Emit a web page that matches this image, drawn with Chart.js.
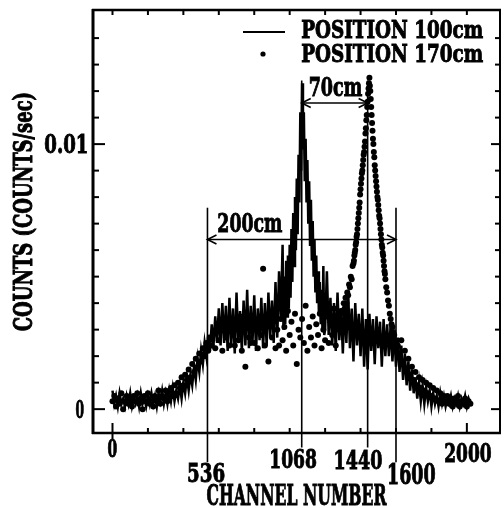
<!DOCTYPE html>
<html>
<head>
<meta charset="utf-8">
<script src="https://cdn.jsdelivr.net/npm/chart.js@4/dist/chart.umd.min.js"></script>
<style>
html,body{margin:0;padding:0;background:#fff;}
canvas{display:block;}
</style>
</head>
<body>
<canvas id="c" width="504" height="508" style="width:504px;height:508px"></canvas>
<script>
// ---------- DATA ----------
// channel numbers (every 10th channel)
const channels = [];
for (let c = 0; c <= 2020; c += 10) channels.push(c);

// counts (counts/sec), source at position 100 cm (solid line)
const counts100 = [
0.0007,0.0002,0.0005,0.0001,0.0006,0.0002,0.0004,0.0001,0.0005,0.0002,
0.0006,0.0001,0.0004,0.0002,0.0005,0.0001,0.0006,0.0002,0.0004,0.0001,
0.0005,0.0002,0.0006,0.0002,0.0005,0.0001,0.0006,0.0003,0.0007,0.0002,
0.0006,0.0002,0.0007,0.0003,0.0008,0.0003,0.0007,0.0004,0.0009,0.0004,
0.0010,0.0006,0.0012,0.0007,0.0013,0.0009,0.0016,0.0011,0.0019,0.0014,
0.0022,0.0017,0.0025,0.0020,0.0028,0.0022,0.0032,0.0024,0.0035,0.0025,
0.0038,0.0024,0.0040,0.0025,0.0039,0.0022,0.0042,0.0024,0.0038,0.0021,
0.0044,0.0025,0.0037,0.0022,0.0041,0.0024,0.0045,0.0023,0.0039,0.0025,
0.0043,0.0022,0.0038,0.0026,0.0042,0.0023,0.0040,0.0024,0.0044,0.0027,
0.0041,0.0025,0.0048,0.0027,0.0052,0.0034,0.0062,0.0050,0.0056,0.0058,
0.0062,0.0068,0.0074,0.0080,0.0087,0.0096,0.0112,0.0123,0.0112,0.0102,
0.0094,0.0086,0.0079,0.0071,0.0064,0.0058,0.0052,0.0048,0.0045,0.0054,
0.0030,0.0052,0.0028,0.0042,0.0024,0.0040,0.0022,0.0044,0.0026,0.0038,
0.0021,0.0040,0.0025,0.0045,0.0023,0.0038,0.0018,0.0040,0.0024,0.0036,
0.0020,0.0038,0.0016,0.0034,0.0015,0.0036,0.0022,0.0034,0.0017,0.0035,
0.0023,0.0033,0.0016,0.0034,0.0020,0.0032,0.0020,0.0032,0.0018,0.0030,
0.0016,0.0027,0.0014,0.0024,0.0011,0.0021,0.0009,0.0018,0.0007,0.0015,
0.0006,0.0012,0.0004,0.0010,0.0003,0.0009,0.0002,0.0008,0.0003,0.0007,
0.0001,0.0006,0.0002,0.0005,0.0001,0.0006,0.0002,0.0005,0.0001,0.0004,
0.0002,0.0005,0.0001,0.0004,0.0002,0.0005,0.0001,0.0004,0.0002,0.0005,
0.0001,0.0004,0.0002
];

// extra 100 cm points between the 10-channel samples around its peak
const peakChannels100 = [];
for (let c = 965; c <= 1195; c += 10) peakChannels100.push(c);
const peakCounts100 = [
0.0030,0.0032,0.0035,0.0038,0.0042,0.0048,0.0054,0.0060,0.0066,0.0078,
0.0090,0.0098,0.0086,0.0078,0.0070,0.0062,0.0056,0.0050,0.0044,0.0040,
0.0036,0.0032,0.0030,0.0028
];

// counts (counts/sec), source at position 170 cm (dots)
const counts170 = [
0.0003,0.0005,0.0001,0.0004,0.0002,0.0006,0.0000,0.0003,0.0005,0.0002,
0.0004,0.0001,0.0005,0.0003,0.0006,0.0002,0.0004,0.0000,0.0005,0.0003,
0.0006,0.0002,0.0004,0.0001,0.0005,0.0003,0.0007,0.0002,0.0005,0.0004,
0.0007,0.0003,0.0006,0.0008,0.0005,0.0009,0.0006,0.0010,0.0008,0.0012,
0.0009,0.0013,0.0011,0.0015,0.0012,0.0017,0.0014,0.0019,0.0016,0.0021,
0.0018,0.0023,0.0020,0.0025,0.0022,0.0027,0.0024,0.0029,0.0023,0.0031,
0.0026,0.0030,0.0022,0.0033,0.0027,0.0031,0.0024,0.0034,0.0028,0.0024,
0.0032,0.0026,0.0035,0.0022,0.0030,0.0016,0.0033,0.0027,0.0025,0.0035,
0.0025,0.0030,0.0023,0.0034,0.0028,0.0053,0.0024,0.0031,0.0018,0.0033,
0.0027,0.0036,0.0023,0.0030,0.0024,0.0034,0.0026,0.0031,0.0022,0.0037,
0.0028,0.0033,0.0024,0.0036,0.0017,0.0030,0.0027,0.0034,0.0025,0.0039,
0.0022,0.0031,0.0027,0.0035,0.0024,0.0032,0.0028,0.0036,0.0023,0.0030,
0.0026,0.0035,0.0025,0.0033,0.0028,0.0038,0.0024,0.0034,0.0030,0.0037,
0.0036,0.0038,0.0040,0.0043,0.0046,0.0049,0.0055,0.0060,0.0066,0.0074,
0.0083,0.0090,0.0097,0.0106,0.0116,0.0125,0.0114,0.0102,0.0092,0.0084,
0.0077,0.0070,0.0062,0.0056,0.0049,0.0044,0.0039,0.0034,0.0031,0.0028,
0.0025,0.0024,0.0020,0.0026,0.0017,0.0022,0.0015,0.0019,0.0013,0.0016,
0.0011,0.0014,0.0009,0.0012,0.0008,0.0011,0.0007,0.0010,0.0006,0.0009,
0.0005,0.0008,0.0004,0.0007,0.0003,0.0006,0.0002,0.0005,0.0003,0.0005,
0.0002,0.0004,0.0001,0.0004,0.0002,0.0005,0.0001,0.0003,0.0002,0.0004,
0.0001,0.0003,0.0002
];

// extra 170 cm points (odd 5-channel steps) around its peak
const peakChannels170 = [];
for (let c = 1285; c <= 1615; c += 10) peakChannels170.push(c);
const peakCounts170 = [
0.0034,0.0033,0.0040,0.0042,0.0044,0.0047,0.0050,0.0054,0.0058,0.0063,
0.0070,0.0078,0.0087,0.0094,0.0101,0.0111,0.0121,0.0120,0.0108,0.0097,
0.0088,0.0080,0.0073,0.0066,0.0059,0.0052,0.0046,0.0041,0.0036,0.0032,
0.0029,0.0026,0.0023,0.0021
];

// further 170 cm points (half-way steps) on the steep part of its peak
const steepChannels170 = [];
for (let c = 1362.5; c <= 1537.5; c += 5) steepChannels170.push(c);
const steepCounts170 = [
0.0056,0.0059,0.0062,0.0065,0.0068,0.0072,0.0076,0.0081,0.0085,0.0089,
0.0092,0.0096,0.0099,0.0104,0.0109,0.0114,0.0119,0.0123,0.0122,0.0117,
0.0111,0.0105,0.0100,0.0095,0.0090,0.0086,0.0082,0.0079,0.0075,0.0072,
0.0068,0.0064,0.0061,0.0058,0.0054,0.0051
];

const seriesNames = ['POSITION 100cm', 'POSITION 170cm'];
const xTickValues = [0, 536, 1068, 1440, 1600, 2000];
const xTickLabels = ['0', '536', '1068', '1440', '1600', '2000'];
const yTickValues = [0, 0.01];
const yTickLabels = ['0', '0.01'];
const markerChannels = [536, 1068, 1440, 1600];
const spanStarts = [536, 1068];
const spanEnds = [1600, 1440];
const spanLabels = ['200cm', '70cm'];
const xTitle = 'CHANNEL NUMBER';
const yTitle = 'COUNTS (COUNTS/sec)';

// ---------- BUILD ----------
const lineData = channels.map((c, i) => ({x: c, y: counts100[i]}))
  .concat(peakChannels100.map((c, i) => ({x: c, y: peakCounts100[i]})))
  .sort((a, b) => a.x - b.x);
const dotData = channels.map((c, i) => ({x: c, y: counts170[i]}))
  .concat(peakChannels170.map((c, i) => ({x: c, y: peakCounts170[i]})))
  .concat(steepChannels170.map((c, i) => ({x: c, y: steepCounts170[i]})))
  .sort((a, b) => a.x - b.x);

const FONT = '"DejaVu Serif"';
function drawText(ctx, s, x, y, w, h, align, rot) {
  ctx.save();
  ctx.translate(x, y);
  if (rot) ctx.rotate(rot);
  ctx.font = 'bold ' + (h / 0.73).toFixed(1) + 'px ' + FONT;
  ctx.textAlign = 'left';
  ctx.textBaseline = 'alphabetic';
  const m = ctx.measureText(s);
  const inkL = -m.actualBoundingBoxLeft;
  const inkR = m.actualBoundingBoxRight;
  const sx = w / (inkR - inkL);
  ctx.scale(sx, 1);
  ctx.fillStyle = '#000';
  let x0;
  if (align === 'left') x0 = -inkL;
  else if (align === 'right') x0 = -inkR;
  else x0 = -(inkL + inkR) / 2;
  ctx.fillText(s, x0, h / 2);
  ctx.strokeStyle = '#000';
  ctx.lineWidth = 1.0;
  ctx.strokeText(s, x0, h / 2);
  ctx.restore();
}
function line(ctx, x1, y1, x2, y2, w) {
  ctx.beginPath();
  ctx.lineWidth = w;
  ctx.moveTo(x1, y1);
  ctx.lineTo(x2, y2);
  ctx.stroke();
}
function arrowHead(ctx, x, y, dir) {
  const L = 9, H = 4.5;
  ctx.beginPath();
  ctx.lineWidth = 1.6;
  ctx.moveTo(x - dir * L, y - H);
  ctx.lineTo(x, y);
  ctx.lineTo(x - dir * L, y + H);
  ctx.stroke();
}

const decor = {
  id: 'decor',
  afterDraw(chart) {
    const ctx = chart.ctx;
    const xs = chart.scales.x, ys = chart.scales.y;
    const a = chart.chartArea;
    ctx.save();
    ctx.strokeStyle = '#000';
    ctx.lineCap = 'butt';
    // frame
    line(ctx, a.left, a.top - 1, a.left, a.bottom + 1, 3);
    line(ctx, a.left - 1, a.bottom, a.right + 1, a.bottom, 2.5);
    line(ctx, a.left - 1, a.top, a.right + 1, a.top, 2.5);
    line(ctx, a.right, a.top, a.right, a.bottom, 2);
    // x ticks every 200 channels (bottom & top)
    for (let v = 0; v <= 2100; v += 200) {
      const px = xs.getPixelForValue(v);
      const major = (v === 0 || v === 2000);
      line(ctx, px, a.bottom + (v === 0 ? 6 : 0), px, a.bottom - (major ? 10 : 5), 2);
      line(ctx, px, a.top, px, a.top + 5, 2);
    }
    // y ticks every 0.001 (left & right)
    for (let k = 0; k <= 15; k++) {
      const v = k * 0.001;
      const py = ys.getPixelForValue(v);
      if (py < a.top + 2) continue;
      const major = (k === 0 || k === 10);
      line(ctx, a.left, py, a.left + (major ? 12 : 6), py, 2);
      line(ctx, a.right, py, a.right - (major ? 9 : 5), py, 2);
    }
    // marker lines
    const topVal = {536: 0.0076, 1068: 0.0124, 1440: 0.0124, 1600: 0.0076};
    const botVal = {536: -0.0020, 1068: -0.00145, 1440: -0.00145, 1600: -0.0020};
    markerChannels.forEach(c => {
      const px = xs.getPixelForValue(c);
      line(ctx, px, ys.getPixelForValue(topVal[c]), px, ys.getPixelForValue(botVal[c]), 1.6);
    });
    // span arrows
    const arrowVal = [0.0064, 0.01155];
    spanStarts.forEach((s, i) => {
      const x1 = xs.getPixelForValue(s), x2 = xs.getPixelForValue(spanEnds[i]);
      const py = ys.getPixelForValue(arrowVal[i]);
      line(ctx, x1, py, x2, py, 1.6);
      arrowHead(ctx, x1, py, -1);
      arrowHead(ctx, x2, py, 1);
    });
    drawText(ctx, spanLabels[0], 250, 222, 64, 19, 'center');
    drawText(ctx, spanLabels[1], 336, 86, 52, 19, 'center');
    // tick labels
    const xLab = {
      0: [0, 448, 9, 17], 536: [-1, 472, 36, 19], 1068: [-8, 458, 45, 19],
      1440: [-9, 459, 46, 19], 1600: [16, 474, 46, 20], 2000: [1, 452, 46, 19]
    };
    xTickValues.forEach((v, i) => {
      const p = xLab[v];
      drawText(ctx, xTickLabels[i], xs.getPixelForValue(v) + p[0], p[1], p[2], p[3], 'center');
    });
    drawText(ctx, yTickLabels[0], 80, ys.getPixelForValue(yTickValues[0]), 8, 18, 'center');
    drawText(ctx, yTickLabels[1], 87, ys.getPixelForValue(yTickValues[1]) - 1, 42, 19, 'right');
    // axis titles
    drawText(ctx, xTitle, 297, 494, 180, 21, 'center');
    drawText(ctx, yTitle, 22, 212, 237, 19, 'center', -Math.PI / 2);
    // legend
    line(ctx, 243, 32, 285, 32, 2);
    ctx.beginPath();
    ctx.fillStyle = '#000';
    ctx.arc(263, 54, 2.6, 0, Math.PI * 2);
    ctx.fill();
    drawText(ctx, seriesNames[0], 302, 29, 181, 18, 'left');
    drawText(ctx, seriesNames[1], 302, 53, 181, 18, 'left');
    ctx.restore();
  }
};

new Chart(document.getElementById('c'), {
  type: 'scatter',
  data: {
    datasets: [
      {label: seriesNames[0], data: lineData, showLine: true, borderColor: '#000',
       borderWidth: 2.5, pointRadius: 0, tension: 0, fill: false},
      {label: seriesNames[1], data: dotData, showLine: false, pointRadius: 3,
       pointBackgroundColor: '#000', pointBorderWidth: 0, borderColor: '#000'}
    ]
  },
  options: {
    responsive: false,
    animation: false,
    devicePixelRatio: 1,
    layout: {padding: {left: 93, top: 10, right: 2, bottom: 75}},
    plugins: {legend: {display: false}, tooltip: {enabled: false}, title: {display: false}},
    scales: {
      x: {type: 'linear', display: false, min: -110, max: 2187},
      y: {type: 'linear', display: false, min: -0.0009, max: 0.01506}
    }
  },
  plugins: [decor]
});
</script>
</body>
</html>
